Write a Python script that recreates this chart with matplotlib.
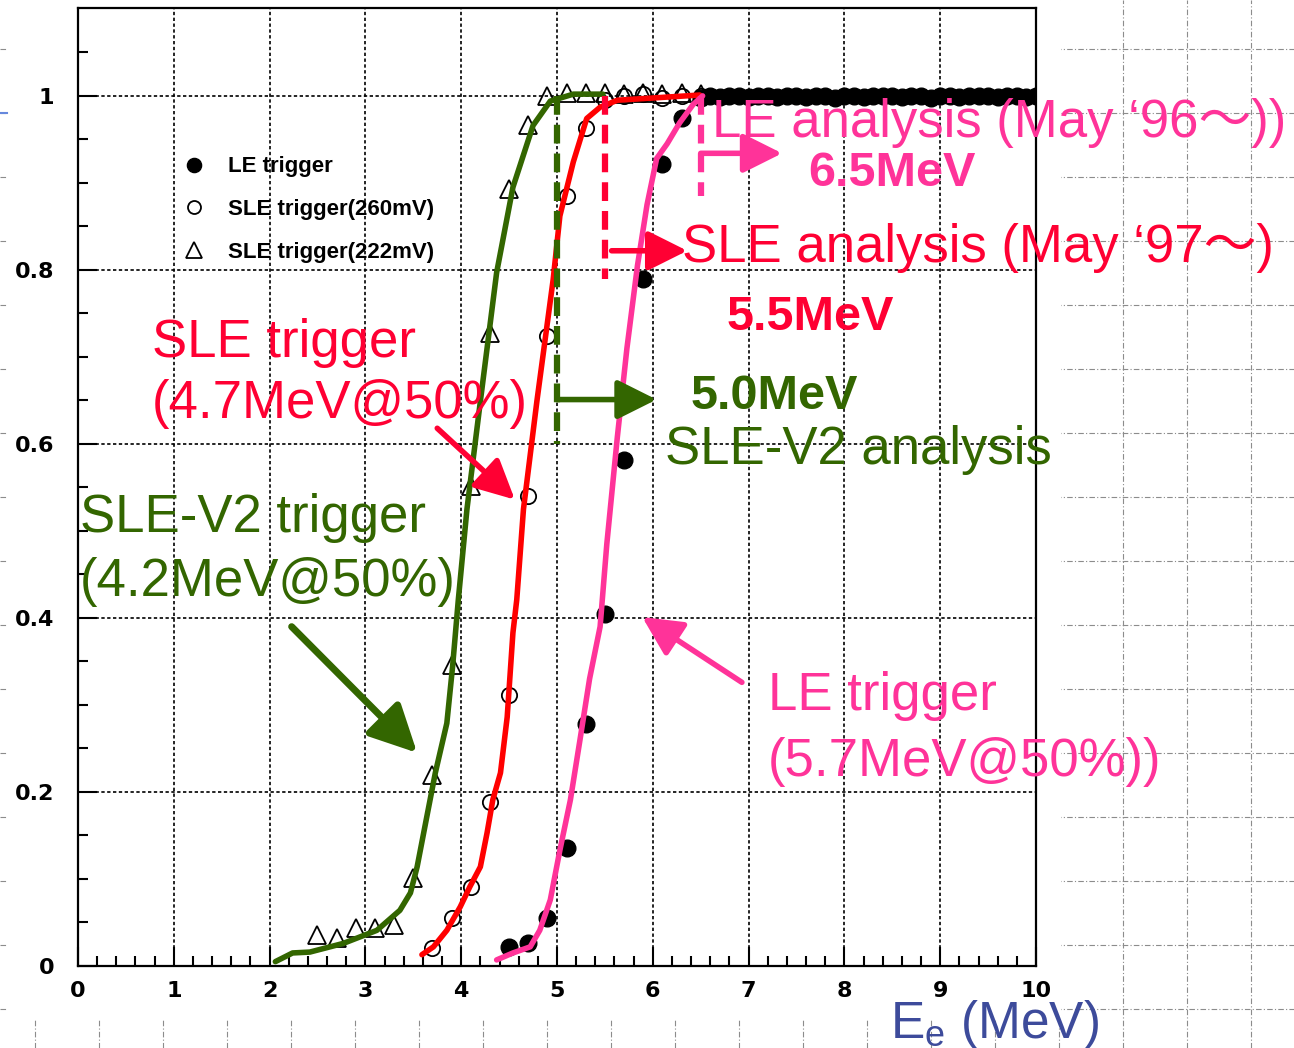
import numpy as np
import matplotlib.pyplot as plt
from matplotlib.patches import Rectangle

plt.rcParams['font.family'] = ['Liberation Sans', 'Noto Sans CJK JP', 'DejaVu Sans']

# trigger efficiency data points (energy in MeV, efficiency)
le_x = [4.5, 4.7, 4.9, 5.1, 5.3, 5.5, 5.7, 5.9, 6.1, 6.3,
        6.5, 6.6, 6.7, 6.8, 6.9, 7.0, 7.1, 7.2, 7.3, 7.4, 7.5, 7.6,
        7.7, 7.8, 7.9, 8.0, 8.1, 8.2, 8.3, 8.4, 8.5, 8.6, 8.7, 8.8,
        8.9, 9.0, 9.1, 9.2, 9.3, 9.4, 9.5, 9.6, 9.7, 9.8, 9.9, 10.0]
le_y = [0.022, 0.026, 0.055, 0.136, 0.278, 0.405, 0.582, 0.79, 0.922, 0.975,
        0.998, 1.0, 0.999, 1.0, 1.0, 0.999, 1.0, 1.0, 0.999, 1.0, 1.0, 0.999,
        1.0, 1.0, 0.998, 1.0, 1.0, 0.999, 1.0, 1.0, 1.0, 0.999, 1.0, 1.0,
        0.998, 1.0, 1.0, 0.999, 1.0, 1.0, 1.0, 0.999, 1.0, 1.0, 0.999, 1.0]

sle260_x = [3.7, 3.9, 4.1, 4.3, 4.5, 4.7, 4.9, 5.1, 5.3, 5.5, 5.7, 5.9, 6.1, 6.3, 6.5]
sle260_y = [0.021, 0.055, 0.091, 0.189, 0.311, 0.54, 0.724, 0.885, 0.963,
            0.995, 1.0, 1.002, 0.998, 1.0, 1.0]

sle222_x = [2.5, 2.7, 2.9, 3.1, 3.3, 3.5, 3.7, 3.9, 4.1, 4.3, 4.5, 4.7,
            4.9, 5.1, 5.3, 5.5, 5.7, 5.9, 6.1, 6.3, 6.5]
sle222_y = [0.036, 0.032, 0.044, 0.044, 0.047, 0.101, 0.22, 0.346, 0.552,
            0.727, 0.893, 0.966, 1.0, 1.003, 1.003, 1.003, 1.002, 1.003,
            1.002, 1.003, 1.002]

# hand drawn efficiency curves
v2_x = [2.06, 2.24, 2.42, 2.77, 3.12, 3.36, 3.47, 3.54, 3.64, 3.73, 3.85,
        3.91, 3.97, 4.06, 4.20, 4.37, 4.54, 4.75, 4.93, 5.17, 5.48]
v2_y = [0.005, 0.015, 0.016, 0.026, 0.041, 0.064, 0.084, 0.114, 0.171, 0.222,
        0.279, 0.344, 0.421, 0.525, 0.649, 0.797, 0.895, 0.966, 0.994, 1.002, 1.002]

sle_x = [3.59, 3.71, 3.85, 3.99, 4.09, 4.20, 4.27, 4.33, 4.41, 4.48, 4.54,
         4.58, 4.65, 4.79, 4.96, 5.03, 5.17, 5.31, 5.45, 5.63, 6.49]
sle_y = [0.013, 0.022, 0.041, 0.068, 0.091, 0.114, 0.153, 0.191, 0.222, 0.286,
         0.383, 0.421, 0.525, 0.649, 0.789, 0.862, 0.924, 0.974, 0.987, 0.995, 1.001]

le_cx = [4.37, 4.54, 4.72, 4.82, 4.93, 5.03, 5.14, 5.24, 5.34, 5.45, 5.52,
         5.63, 5.73, 5.84, 5.94, 6.04, 6.15, 6.28, 6.42, 6.52]
le_cy = [0.007, 0.015, 0.022, 0.041, 0.076, 0.133, 0.191, 0.260, 0.330, 0.39,
         0.485, 0.608, 0.710, 0.805, 0.875, 0.928, 0.945, 0.969, 0.990, 1.0]

# analysis thresholds: SLE-V2, SLE, LE
thr = [5.0, 5.5, 6.5]

GREEN = '#336600'
RED = '#ff0000'
CRIMSON = '#ff0033'
PINK = '#ff3399'
BLUE = '#3d4b9b'

W, H = 1294, 1048
fig = plt.figure(figsize=(W / 100, H / 100), dpi=100)

# dashed grid of the page behind the plot
bg = fig.add_axes([0, 0, 1, 1])
bg.set_xlim(0, W); bg.set_ylim(H, 0)
bg.axis('off')
for gx in np.arange(35, W, 64):
    bg.axvline(gx, color='#8c8c8c', lw=0.8, ls=(0, (5, 2, 1, 2)))
for gy in np.arange(49, H, 64):
    bg.axhline(gy, color='#8c8c8c', lw=0.8, ls=(0, (5, 2, 1, 2)))
bg.add_patch(Rectangle((8, 0), 1052, 1018, color='white', zorder=3))
bg.plot([0, 7], [113, 113], color='#6688dd', lw=1.5, zorder=4)

ax = fig.add_axes([78 / W, (H - 966) / H, 958 / W, 958 / H])
ax.set_xlim(0, 10)
ax.set_ylim(0, 1.101)

tick_font = dict(family='DejaVu Sans', weight='bold', size=16)
ax.set_xticks(range(11))
ax.set_xticklabels([str(i) for i in range(11)], fontdict=tick_font)
ax.set_xticks(np.arange(0, 10.01, 0.2), minor=True)
ax.set_yticks([0, 0.2, 0.4, 0.6, 0.8, 1.0])
ax.set_yticklabels(['0', '0.2', '0.4', '0.6', '0.8', '1'], fontdict=tick_font)
ax.set_yticks(np.arange(0, 1.1, 0.05), minor=True)
ax.tick_params(which='major', direction='in', length=14, width=1.5)
ax.tick_params(axis='x', which='major', pad=11)
ax.tick_params(axis='y', which='major', pad=17)
ax.tick_params(which='minor', direction='in', length=7, width=1.5)
for s in ax.spines.values():
    s.set_linewidth(1.6)
ax.grid(which='major', color='black', ls=(0, (2, 1.5)), lw=1.2)
ax.set_axisbelow(True)

ax.plot(le_x, le_y, 'o', color='black', ms=12, label='LE trigger', zorder=3)
ax.plot(sle260_x, sle260_y, 'o', mfc='none', mec='black', mew=1.3, ms=11,
        label='SLE trigger(260mV)', zorder=3)
ax.plot(sle222_x, sle222_y, '^', mfc='none', mec='black', mew=1.3, ms=13,
        label='SLE trigger(222mV)', zorder=3)

ax.legend(loc='upper left', bbox_to_anchor=(0.090, 0.866), frameon=False,
          prop=dict(weight='bold', size=16), handlelength=0.9,
          handletextpad=1.07, labelspacing=0.98, markerscale=0.85)

# efficiency curves
ax.plot(v2_x, v2_y, color=GREEN, lw=4, solid_capstyle='round', zorder=5)
ax.plot(sle_x, sle_y, color=RED, lw=4, solid_capstyle='round', zorder=5)
ax.plot(le_cx, le_cy, color=PINK, lw=4, solid_capstyle='round', zorder=5)

# analysis thresholds
dash = (0, (3, 1.6))
ax.plot([thr[0], thr[0]], [1.0, 0.6], color=GREEN, lw=4.5, ls=dash, zorder=6)
ax.plot([thr[1], thr[1]], [1.0, 0.79], color=CRIMSON, lw=4.5, ls=dash, zorder=6)
ax.plot([thr[2], thr[2]], [1.0, 0.885], color=PINK, lw=4.5, ls=dash, zorder=6)


def arrow(tail, tip, color, lw=4, hl=0.8, hw=0.4, ms=30):
    ax.annotate('', xy=tip, xytext=tail, annotation_clip=False,
                arrowprops=dict(arrowstyle='-|>,head_length=%g,head_width=%g' % (hl, hw),
                                color=color, lw=lw, mutation_scale=ms,
                                shrinkA=0, shrinkB=0), zorder=7)


arrow((thr[0], 0.651), (6.04, 0.651), GREEN)
arrow((5.57, 0.822), (6.36, 0.822), CRIMSON)
arrow((thr[2], 0.934), (7.35, 0.934), PINK)
arrow((3.75, 0.618), (4.56, 0.536), CRIMSON)
arrow((2.23, 0.39), (3.54, 0.245), GREEN, lw=5, ms=36)
arrow((6.93, 0.326), (5.89, 0.401), PINK)

big = 38
tkw = dict(fontsize=big, ha='left', va='baseline', zorder=8, clip_on=False)
ax.text(6.62, 0.953, 'LE analysis (May \u201896\uff5e))', color=PINK, **tkw)
ax.text(6.30, 0.809, 'SLE analysis (May \u201897\uff5e)', color=CRIMSON, **tkw)
ax.text(0.77, 0.700, 'SLE trigger', color=CRIMSON, **tkw)
ax.text(0.77, 0.630, '(4.7MeV@50%)', color=CRIMSON, **tkw)
ax.text(6.13, 0.577, 'SLE-V2 analysis', color=GREEN, **tkw)
ax.text(0.02, 0.499, 'SLE-V2 trigger', color=GREEN, **tkw)
ax.text(0.02, 0.425, '(4.2MeV@50%)', color=GREEN, **tkw)
ax.text(7.20, 0.294, 'LE trigger', color=PINK, **tkw)
ax.text(7.20, 0.218, '(5.7MeV@50%))', color=PINK, **tkw)

bkw = dict(fontsize=35, fontweight='bold', ha='left', va='baseline', zorder=8)
ax.text(7.62, 0.897, '6.5MeV', color=PINK, **bkw)
ax.text(6.77, 0.731, '5.5MeV', color=CRIMSON, **bkw)
ax.text(6.39, 0.640, '5.0MeV', color=GREEN, **bkw)

ax.text(8.48, -0.083, r'E$_\mathregular{e}$ (MeV)', color=BLUE, fontsize=37,
        ha='left', va='baseline', clip_on=False, zorder=8)

fig.savefig('out.png', dpi=100)
